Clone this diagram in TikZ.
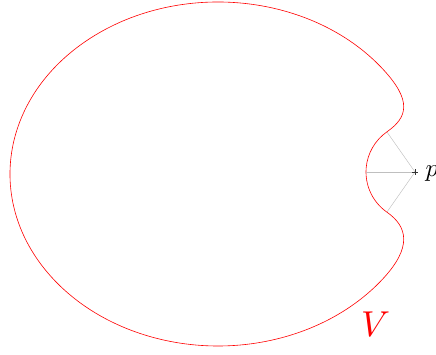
\documentclass[tikz,border=0pt]{standalone}
\usetikzlibrary{calc}
\begin{document}
\begin{tikzpicture}[x=1pt,y=1pt,
  boundary/.style={draw=red, line width=0.6pt},
  ray/.style={draw=black!25, line width=0.45pt},
  plusmark/.style={draw=black!80, line width=0.5pt}]
\useasboundingbox (0,0) rectangle (436,354);
\coordinate (C) at (218,180);
\coordinate (p) at (415,182);
\coordinate (E1) at (381.9,285.9);
\coordinate (E2) at (381.9,74.1);
\coordinate (N1) at ($(p)+(125:49)$);
\coordinate (N0) at ($(p)+(180:49)$);
\coordinate (N2) at ($(p)+(235:49)$);
% region boundary
\draw[boundary] (E1) arc[start angle=38, end angle=322, x radius=208, y radius=172]
  .. controls (412.9,106.9) and (407.4,127.5) .. (N2)
  arc[start angle=235, end angle=125, radius=49]
  .. controls (407.4,236.5) and (412.9,253.1) .. (E1) -- cycle;
% rays
\draw[ray] (p) -- (N1);
\draw[ray] (p) -- (N0);
\draw[ray] (p) -- (N2);
% plus mark
\draw[plusmark] ($(p)+(-2.6,0)$) -- ($(p)+(2.6,0)$);
\draw[plusmark] ($(p)+(0,-2.6)$) -- ($(p)+(0,2.6)$);
\node[anchor=base west, inner sep=0pt, scale=2.5] (plabel) at (425,177.5) {$p$};
\node[anchor=base, inner sep=0pt, text=red, scale=3.6] (Vlabel) at (375.5,18) {$V$};
\end{tikzpicture}
\end{document}
